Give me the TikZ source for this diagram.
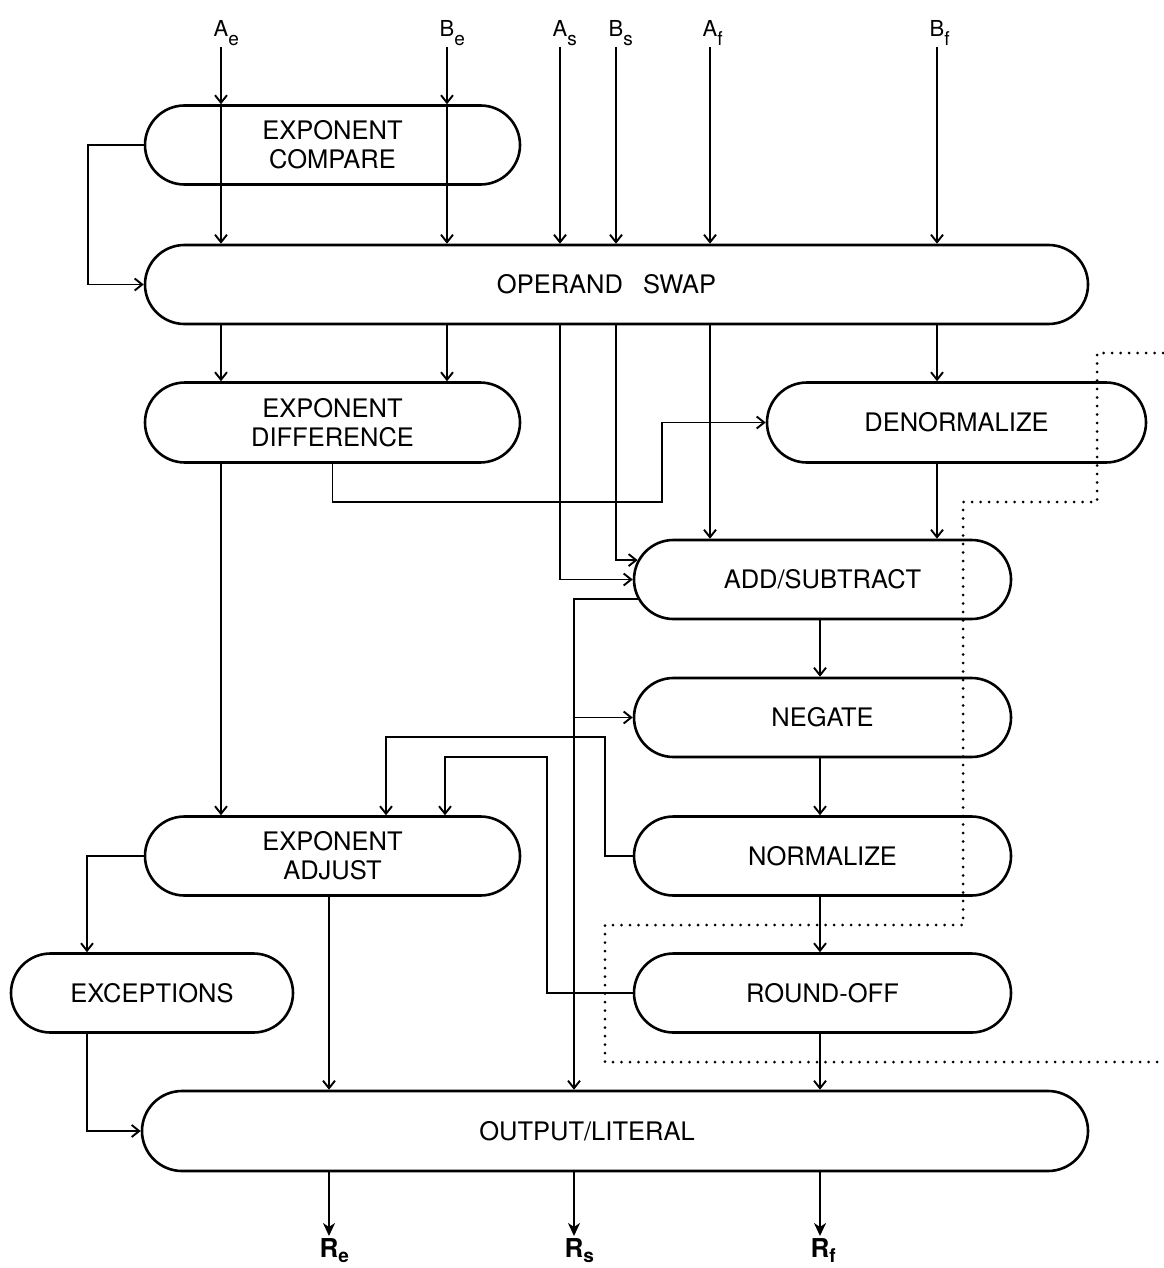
\documentclass[tikz,border=0pt]{standalone}
\usepackage{fontspec}
\setmainfont{TeX Gyre Heros}
\usetikzlibrary{shapes.misc,arrows.meta}
% lowered subscript that takes no room in the label node
\newcommand\lowsub[2]{\rlap{\smash{\raisebox{#1}{#2}}}}
\begin{document}
\begin{tikzpicture}[x=1pt,y=-1pt,
  stage/.style={rounded rectangle, draw, line width=2.6pt, minimum height=79pt,
    inner sep=0pt, align=center, font=\fontsize{25.5}{29}\selectfont},
  wide/.style={minimum width=375pt},
  conn/.style={line width=1.9pt},
  arr/.style={conn, -{Straight Barb[length=7.5pt,width=12pt]}},
  outarr/.style={line width=2.2pt, -{Stealth[length=13pt,width=12pt,inset=4pt]}},
  inlabel/.style={anchor=south, inner xsep=0pt, inner ysep=10pt, font=\fontsize{22}{22}\selectfont},
  outlabel/.style={anchor=north, inner xsep=0pt, inner ysep=2pt, font=\bfseries\fontsize{26}{26}\selectfont},
  boundary/.style={line width=3pt, line cap=round, dash pattern=on 0pt off 8.5pt}
]
\useasboundingbox (0,0) rectangle (1163,1268);

% input operands
\node[inlabel] (Ae) at (221,47) {A\lowsub{-9pt}{\fontsize{19}{19}\selectfont e}};
\node[inlabel] (Be) at (447,47) {B\lowsub{-9pt}{\fontsize{19}{19}\selectfont e}};
\node[inlabel] (As) at (560,47) {A\lowsub{-9pt}{\fontsize{19}{19}\selectfont s}};
\node[inlabel] (Bs) at (616,47) {B\lowsub{-9pt}{\fontsize{19}{19}\selectfont s}};
\node[inlabel] (Af) at (710,47) {A\lowsub{-9pt}{\fontsize{19}{19}\selectfont f}};
\node[inlabel] (Bf) at (937,47) {B\lowsub{-9pt}{\fontsize{19}{19}\selectfont f}};

% pipeline stages
\node[stage, wide] (cmp) at (332.5,145) {EXPONENT\\COMPARE};
\node[stage, minimum width=943pt] (swap) at (616.5,284.5) {\hspace*{-20pt}OPERAND\hspace{20pt}SWAP};
\node[stage, wide, minimum height=80pt] (diff) at (332.5,422.5) {EXPONENT\\DIFFERENCE};
\node[stage, minimum width=379pt, minimum height=80pt] (denorm) at (956.5,422.5) {DENORMALIZE};
\node[stage, minimum width=377pt] (addsub) at (822.5,579.5) {ADD/SUBTRACT};
\node[stage, minimum width=377pt] (negate) at (822.5,717.5) {NEGATE};
\node[stage, minimum width=377pt] (normalize) at (822.5,856) {NORMALIZE};
\node[stage, minimum width=377pt] (roundoff) at (822.5,993) {ROUND-OFF};
\node[stage, wide] (adjust) at (332.5,856) {EXPONENT\\ADJUST};
\node[stage, minimum width=282pt] (except) at (152,993) {EXCEPTIONS};
\node[stage, minimum width=946pt, minimum height=80pt] (output) at (615,1131) {\hspace*{-56pt}OUTPUT/LITERAL};

% results
\node[outlabel] (Re) at (329,1236) {R\lowsub{-5pt}{\fontsize{19}{19}\selectfont e}};
\node[outlabel] (Rs) at (574,1236) {R\lowsub{-5pt}{\fontsize{19}{19}\selectfont s}};
\node[outlabel] (Rf) at (820,1236) {R\lowsub{-5pt}{\fontsize{19}{19}\selectfont f}};

% bend points of the feedback paths
\coordinate (jog) at (662,502);
\coordinate (nb) at (605,737);
\coordinate (na) at (386,737);
\coordinate (rb) at (547,757);
\coordinate (ra) at (445,757);

% operand inputs
\draw[arr] (Ae.south) -- (Ae |- cmp.north);
\draw[arr] (Ae |- cmp.north) -- (Ae |- swap.north);
\draw[arr] (Be.south) -- (Be |- cmp.north);
\draw[arr] (Be |- cmp.north) -- (Be |- swap.north);
\draw[arr] (As.south) -- (As |- swap.north);
\draw[arr] (Bs.south) -- (Bs |- swap.north);
\draw[arr] (Af.south) -- (Af |- swap.north);
\draw[arr] (Bf.south) -- (Bf |- swap.north);
\draw[arr] (cmp.west) -- ++(-56,0) |- (swap.west);

% after the swap
\draw[arr] (Ae |- swap.south) -- (Ae |- diff.north);
\draw[arr] (Be |- swap.south) -- (Be |- diff.north);
\draw[arr] (As |- swap.south) |- (addsub.west);
\draw[arr] (Bs |- swap.south) |- (addsub.174);
\draw[arr] (Af |- swap.south) -- (Af |- addsub.north);
\draw[arr] (Bf |- swap.south) -- (Bf |- denorm.north);
\draw[arr] (diff.south) |- (jog) |- (denorm.west);
\draw[arr] (Bf |- denorm.south) -- (Bf |- addsub.north);
\draw[arr] (Ae |- diff.south) -- (Ae |- adjust.north);

% fraction path
\draw[arr] (addsub.186) -| (Rs |- output.north);
\draw[arr] (Rs |- negate.west) -- (negate.west);
\draw[arr] (Rf |- addsub.south) -- (Rf |- negate.north);
\draw[arr] (Rf |- negate.south) -- (Rf |- normalize.north);
\draw[arr] (Rf |- normalize.south) -- (Rf |- roundoff.north);
\draw[arr] (Rf |- roundoff.south) -- (Rf |- output.north);

% exponent corrections
\draw[arr] (normalize.west) -| (nb) -- (na) -- (na |- adjust.north);
\draw[arr] (roundoff.west) -| (rb) -- (ra) -- (ra |- adjust.north);
\draw[arr] (adjust.west) -| ([xshift=-65pt]except.north);
\draw[arr] ([xshift=-65pt]except.south) |- (output.west);
\draw[arr] (Re |- adjust.south) -- (Re |- output.north);

% results
\draw[outarr] (Re |- output.south) -- (Re.north);
\draw[outarr] (Rs |- output.south) -- (Rs.north);
\draw[outarr] (Rf |- output.south) -- (Rf.north);

% boundary of the fraction unit
\draw[boundary] (1163,353) -- (1097,353) -- (1097,502) -- (963,502) -- (963,925)
  -- (605,925) -- (605,1062) -- (1163,1062);
\end{tikzpicture}
\end{document}
